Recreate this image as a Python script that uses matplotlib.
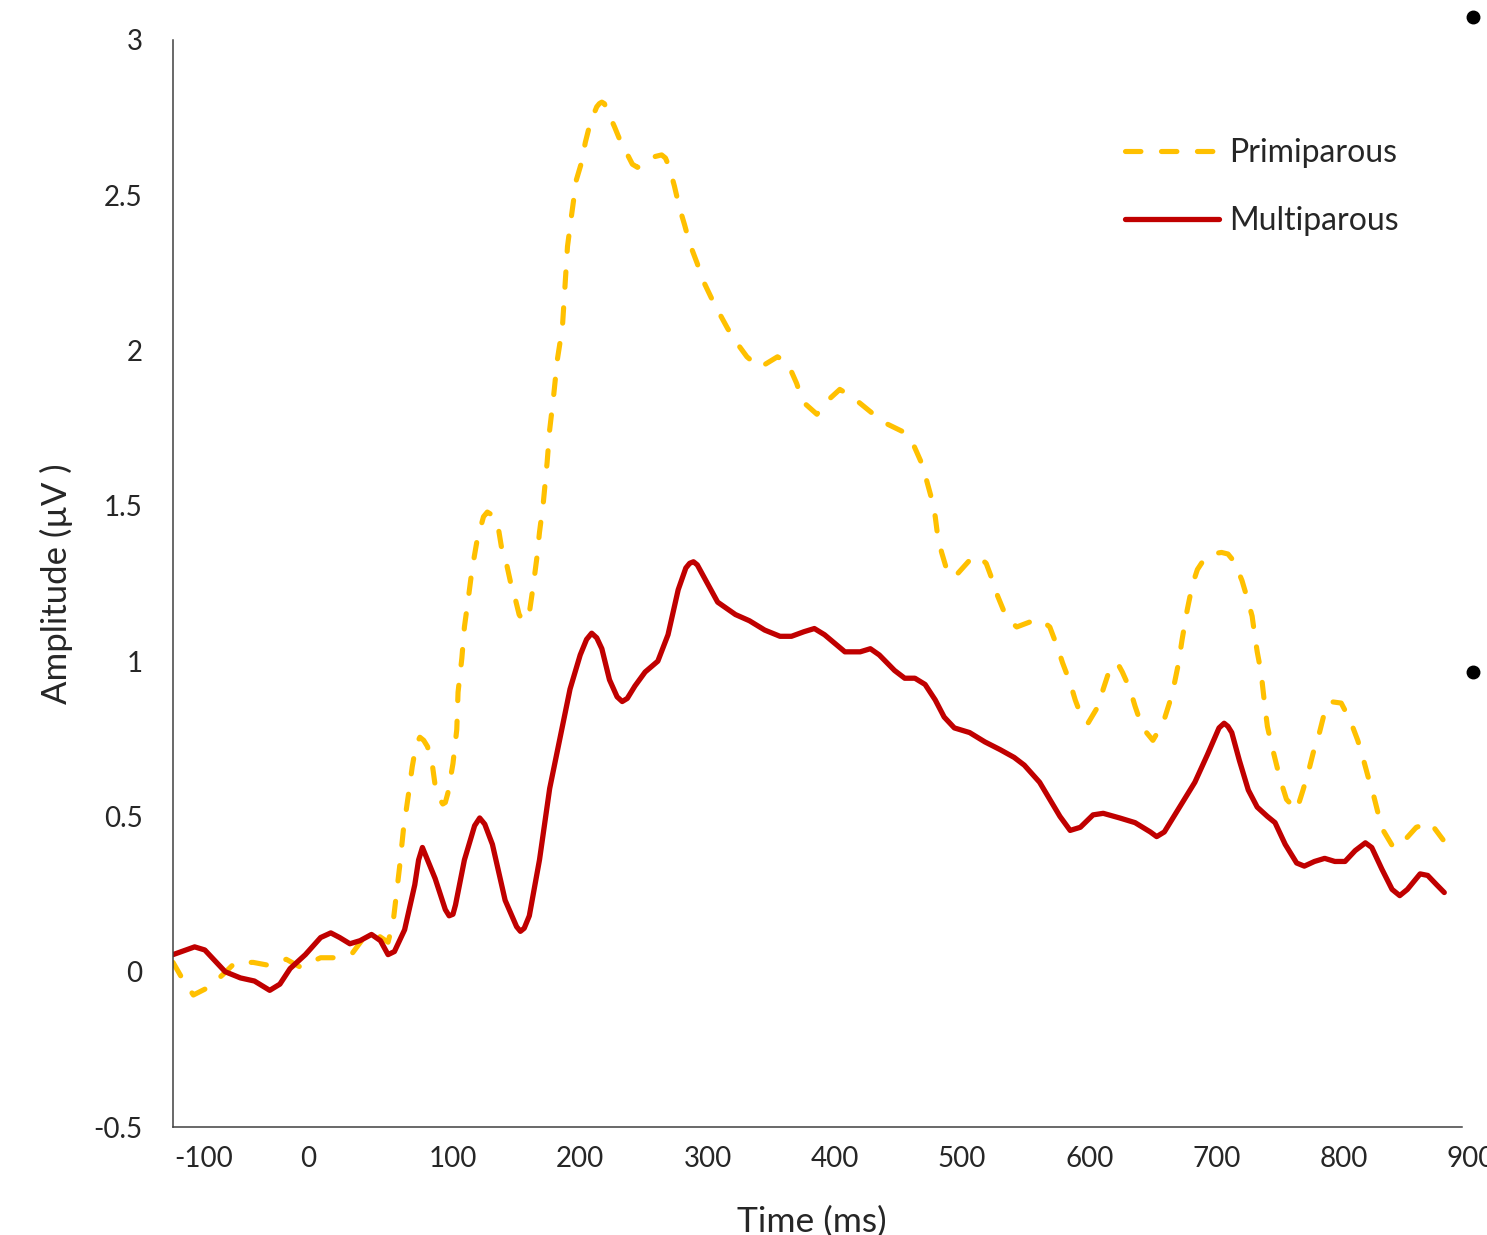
import matplotlib
matplotlib.use("Agg")
import matplotlib.pyplot as plt
from matplotlib.lines import Line2D

# ERP waveforms (time in ms, amplitude in microvolts)
multi_t = [-120, -103, -95, -79, -67, -56, -44, -36, -28, -16, -4, 4, 11, 19, 27, 36, 43, 49, 54,
           62, 70, 73, 76, 79, 86, 94, 97, 100, 102, 109, 117, 121, 125, 131, 141, 150, 153, 156,
           160, 168, 176, 184, 192, 200, 205, 209, 213, 217, 223, 229, 233, 237, 243, 251, 261,
           269, 277, 283, 286, 289, 292, 296, 308, 322, 333, 345, 357, 366, 376, 384, 392, 408,
           420, 428, 435, 447, 455, 463, 471, 479, 486, 494, 506, 518, 530, 541, 549, 561, 569,
           577, 585, 593, 603, 611, 624, 636, 648, 653, 659, 671, 683, 693, 702, 706, 709, 712,
           718, 725, 732, 740, 746, 754, 763, 769, 777, 785, 793, 801, 809, 817, 822, 830, 838,
           844, 850, 860, 866, 873, 879]
multi_v = [0.055, 0.08, 0.07, 0.00, -0.02, -0.03, -0.06, -0.04, 0.01, 0.055, 0.11, 0.125, 0.11,
           0.09, 0.10, 0.12, 0.10, 0.055, 0.065, 0.135, 0.28, 0.36, 0.40, 0.37, 0.30, 0.20, 0.18,
           0.185, 0.215, 0.36, 0.47, 0.495, 0.475, 0.41, 0.23, 0.145, 0.13, 0.14, 0.18, 0.36,
           0.59, 0.75, 0.91, 1.02, 1.07, 1.09, 1.075, 1.04, 0.94, 0.885, 0.87, 0.88, 0.92, 0.965,
           1.00, 1.085, 1.23, 1.30, 1.315, 1.32, 1.31, 1.28, 1.19, 1.15, 1.13, 1.10, 1.08, 1.08,
           1.095, 1.105, 1.085, 1.03, 1.03, 1.04, 1.02, 0.97, 0.945, 0.945, 0.925, 0.875, 0.82,
           0.785, 0.77, 0.74, 0.715, 0.69, 0.665, 0.61, 0.555, 0.50, 0.455, 0.465, 0.505, 0.51,
           0.495, 0.48, 0.45, 0.435, 0.45, 0.53, 0.61, 0.70, 0.785, 0.80, 0.79, 0.77, 0.68, 0.585,
           0.53, 0.50, 0.48, 0.41, 0.35, 0.34, 0.355, 0.365, 0.355, 0.355, 0.39, 0.415, 0.40,
           0.33, 0.265, 0.245, 0.265, 0.315, 0.31, 0.28, 0.255]

primi_t = [-120, -113, -104, -92, -81, -71, -57, -44, -31, -20, -4, 9, 21, 30, 40, 49, 53, 58, 61,
           65, 68, 71, 74, 77, 80, 84, 86, 89, 92, 94, 96, 100, 103, 104, 107, 109, 112, 115, 119,
           121, 124, 127, 131, 135, 138, 142, 146, 149, 152, 155, 158, 160, 163, 166, 168, 171,
           174, 176, 179, 182, 186, 188, 190, 193, 197, 201, 204, 208, 213, 215, 217, 219, 221,
           227, 231, 241, 245, 251, 259, 264, 267, 270, 274, 278, 282, 286, 292, 296, 303, 308,
           316, 323, 331, 341, 355, 363, 370, 375, 386, 392, 404, 414, 429, 438, 453, 461, 468,
           472, 476, 479, 481, 484, 488, 494, 506, 512, 519, 524, 528, 535, 543, 559, 563, 569,
           575, 579, 585, 589, 594, 599, 607, 611, 615, 622, 626, 632, 636, 641, 645, 650, 658,
           663, 667, 670, 673, 677, 681, 685, 689, 696, 704, 709, 714, 720, 724, 728, 730, 732,
           735, 738, 740, 743, 747, 750, 755, 763, 768, 772, 776, 780, 784, 789, 798, 805, 811,
           815, 819, 823, 827, 831, 839, 846, 857, 868, 878]
primi_v = [0.03, -0.02, -0.075, -0.05, -0.01, 0.03, 0.03, 0.02, 0.04, 0.015, 0.045, 0.045, 0.06,
           0.11, 0.12, 0.095, 0.16, 0.335, 0.455, 0.57, 0.66, 0.73, 0.755, 0.745, 0.725, 0.66,
           0.60, 0.56, 0.54, 0.545, 0.575, 0.67, 0.78, 0.90, 1.01, 1.11, 1.20, 1.295, 1.39, 1.42,
           1.465, 1.48, 1.47, 1.445, 1.37, 1.315, 1.24, 1.20, 1.15, 1.13, 1.135, 1.155, 1.24,
           1.335, 1.415, 1.51, 1.64, 1.745, 1.85, 1.97, 2.075, 2.205, 2.335, 2.43, 2.55, 2.605,
           2.67, 2.735, 2.785, 2.795, 2.80, 2.795, 2.775, 2.72, 2.68, 2.60, 2.59, 2.60, 2.625,
           2.63, 2.62, 2.59, 2.53, 2.46, 2.405, 2.345, 2.28, 2.23, 2.17, 2.13, 2.07, 2.025, 1.98,
           1.945, 1.98, 1.96, 1.895, 1.835, 1.795, 1.83, 1.875, 1.85, 1.80, 1.77, 1.74, 1.705,
           1.64, 1.585, 1.525, 1.465, 1.40, 1.35, 1.295, 1.27, 1.325, 1.34, 1.315, 1.26, 1.21,
           1.14, 1.11, 1.135, 1.13, 1.11, 1.045, 0.995, 0.93, 0.875, 0.82, 0.80, 0.855, 0.91,
           0.96, 0.995, 0.965, 0.91, 0.855, 0.795, 0.77, 0.745, 0.80, 0.865, 0.93, 0.99, 1.07,
           1.165, 1.245, 1.295, 1.32, 1.345, 1.35, 1.345, 1.32, 1.26, 1.205, 1.145, 1.085, 1.03,
           0.965, 0.855, 0.79, 0.735, 0.67, 0.62, 0.555, 0.52, 0.585, 0.64, 0.705, 0.755, 0.82,
           0.87, 0.865, 0.81, 0.745, 0.69, 0.63, 0.575, 0.51, 0.455, 0.40, 0.415, 0.465, 0.48,
           0.425]

# tick labels sit where the original put them (first two are shifted left)
xtick_pos = [-96, -14, 100, 200, 300, 400, 500, 600, 700, 800, 900]
xtick_labels = ["-100", "0", "100", "200", "300", "400", "500", "600", "700", "800", "900"]
yticks = [-0.5, 0, 0.5, 1, 1.5, 2, 2.5, 3]
ytick_labels = ["-0.5", "0", "0.5", "1", "1.5", "2", "2.5", "3"]

plt.rcParams['font.family'] = ['Lato', 'DejaVu Sans']

W, H = 1487, 1235
fig = plt.figure(figsize=(W / 100, H / 100), dpi=100)
ax = fig.add_axes([173 / W, 108 / H, (1471 - 173) / W, (1195 - 108) / H])

ax.plot(primi_t, primi_v, color='#FFC000', lw=3.7, dashes=(3, 4),
        dash_capstyle='round', dash_joinstyle='round', label='Primiparous')
ax.plot(multi_t, multi_v, color='#C00000', lw=3.8, solid_capstyle='round',
        solid_joinstyle='round', label='Multiparous')

ax.set_xlim(-120, 900)
ax.set_ylim(-0.5, 3)
ax.set_xticks(xtick_pos)
ax.set_xticklabels(xtick_labels)
ax.set_yticks(yticks)
ax.set_yticklabels(ytick_labels)
ax.tick_params(length=0, labelsize=20, colors='#262626')
ax.tick_params(axis='y', pad=22)
ax.tick_params(axis='x', pad=14)

for s in ['top', 'right']:
    ax.spines[s].set_visible(False)
for s in ['left', 'bottom']:
    ax.spines[s].set_color('#404040')
    ax.spines[s].set_linewidth(1.1)
ax.spines['bottom'].set_bounds(-120, 893)

ax.set_ylabel('Amplitude (µV )', fontsize=25, color='#262626')
ax.yaxis.set_label_coords(-0.077, 0.5)
ax.set_xlabel('Time (ms)', fontsize=25.5, color='#262626')
ax.xaxis.set_label_coords(0.492, -0.0727)

leg = ax.legend(loc='upper left', bbox_to_anchor=(1125 / W, 1 - 138 / H),
                bbox_transform=fig.transFigure, frameon=False, fontsize=23,
                handlelength=2.95, handletextpad=0.3, labelspacing=1.2,
                borderpad=0, borderaxespad=0)
for t in leg.get_texts():
    t.set_color('#262626')

# stray bullet points at the right edge of the original slide
for y in [17, 672]:
    fig.add_artist(Line2D([1473 / W], [1 - y / H], marker='o', color='black',
                          markersize=9, transform=fig.transFigure))

fig.savefig('out.png', dpi=100)
